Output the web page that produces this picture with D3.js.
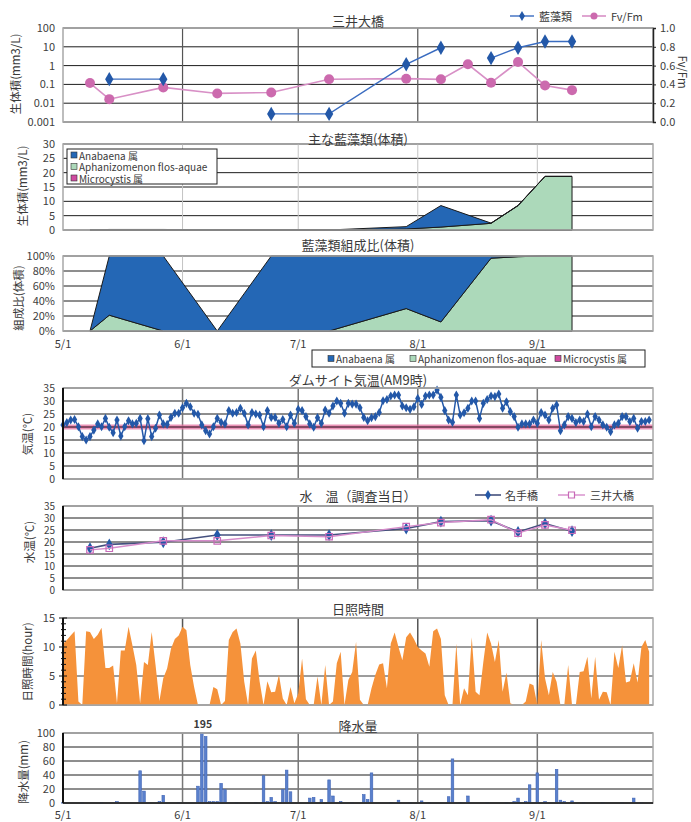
<!DOCTYPE html>
<html>
<head>
<meta charset="utf-8">
<script src="https://cdn.jsdelivr.net/npm/d3@7"></script>
<style>
  body { margin: 0; background: #fff; }
  text { font-family: "Noto Sans CJK JP", "Noto Sans", sans-serif; fill: #3a3a3a; }
</style>
</head>
<body>
<svg id="chart" width="691" height="822"></svg>
<script>
// ---- data ----
const monthTicks = ["5/1", "6/1", "7/1", "8/1", "9/1"];

// 三井大橋 : 藍藻類 total (log) and Fv/Fm
const fvDates = ["5/8", "5/13", "5/27", "6/10", "6/24", "7/9", "7/29", "8/7", "8/14", "8/20", "8/27", "9/3", "9/10"];
const bioTotal = [null, 0.19, 0.19, null, 0.0027, 0.0027, 1.17, 8.9, null, 2.5, 8.9, 19, 19];
const fvfm = [0.414, 0.243, 0.368, 0.304, 0.314, 0.454, 0.461, 0.454, 0.614, 0.418, 0.639, 0.389, 0.339];

// main blue-green algae volume (mm3/L)
const surveyDates = ["5/8", "5/13", "5/27", "6/10", "6/24", "7/9", "7/29", "8/7", "8/20", "8/27", "9/3", "9/10"];
const anabaena = [0, 0.15, 0.19, 0, 0.003, 0.003, 0.82, 7.5, 0.07, 0.08, 0, 0];
const aphanizomenon = [0, 0.04, 0, 0, 0, 0, 0.35, 1.03, 2.33, 8.5, 18.7, 18.7];
const microcystis = [0, 0, 0, 0, 0, 0, 0, 0, 0, 0, 0, 0];
const genusNames = ["Anabaena 属", "Aphanizomenon flos-aquae", "Microcystis 属"];

// water temperature on survey days
const waterNate = [17.4, 19.0, 19.9, 22.9, 22.9, 22.9, 25.6, 28.5, 28.9, 24.2, 27.7, 24.5];
const waterMitsui = [16.7, 17.4, 20.5, 20.5, 22.7, 22.2, 26.4, 28.1, 29.3, 23.7, 27.1, 24.9];

// daily from 5/1 to 9/30
const airTemp = [
  20.8, 21.7, 22.7, 22.9, 20.1, 16.3, 15.0, 16.3, 18.8, 21.2,
  20.1, 23.3, 19.9, 17.8, 22.7, 16.5, 20.1, 22.4, 21.2, 21.4,
  23.3, 14.7, 23.2, 16.3, 19.5, 24.6, 21.2, 21.0, 23.7, 25.3,
  25.3, 27.4, 29.1, 27.8, 25.3, 24.9, 20.8, 18.6, 17.3, 20.1,
  23.3, 21.8, 21.2, 26.3, 25.3, 25.6, 27.2, 25.3, 20.8, 25.6,
  25.0, 24.6, 20.1, 26.3, 23.7, 23.7, 21.4, 22.9, 20.1, 24.6,
  21.4, 26.8, 26.3, 24.0, 21.2, 19.9, 23.6, 21.4, 26.5, 25.3,
  28.1, 30.0, 29.1, 25.3, 29.1,
  28.8, 28.8, 27.4, 23.7, 22.4, 23.6, 24.0, 25.6, 30.1, 30.6,
  31.9, 32.3, 32.3, 28.1, 27.4, 26.8, 27.8, 31.0, 28.7, 31.9,
  32.3, 32.3, 34.2, 31.4, 26.3, 22.7, 21.8, 32.3, 24.6, 25.5,
  27.2, 30.0, 30.0, 23.3, 29.1, 30.6, 31.9, 31.7, 32.7, 27.2,
  29.7, 25.9, 24.0, 19.9, 21.2, 21.2, 21.2, 22.7, 21.4, 25.6,
  24.6, 22.7, 27.2, 28.5, 18.6, 20.8, 24.0, 23.3, 21.7, 22.7,
  22.1, 25.0, 20.1, 24.0, 22.7, 20.8, 19.9, 18.2, 20.8, 21.4,
  24.0, 24.0, 22.1, 23.3, 19.5, 22.1, 22.1, 22.7
];
const airRefTemp = 20;

const sunshine = [
  10.5, 11.2, 12.0, 12.7, 0.6, 0, 12.7, 12.6, 11.4, 12.1, 13.3,
  6.4, 6.4, 6.8, 0.3, 9.4, 9.4, 13.5, 10.3, 6.9, 0.3,
  7.4, 6.9, 12.6, 6.9, 0.7, 4.6, 6.3, 9.7, 11.4, 12.0,
  13.5, 12.9, 6.9, 3.1, 0, 0, 0, 0, 3.1, 2.7,
  0, 0.7, 11.2, 12.6, 13.2, 10.6, 4.0, 0, 8.0, 9.4,
  4.0, 0, 4.1, 2.2, 2.3, 5.2, 1.1, 0, 3.1, 0.3,
  2.0, 8.0, 1.0, 0, 0, 4.9, 0, 6.9, 0, 0.6,
  7.2, 9.2, 0, 4.3,
  5.7, 10.9, 0.9, 0, 0, 2.9, 5.2, 7.0, 7.2, 2.9,
  10.6, 12.5, 10.0, 7.7, 11.7, 12.5, 11.4, 10.0, 9.4, 8.9,
  6.6, 12.7, 13.2, 11.4, 1.7, 0, 0, 10.6, 0, 2.9,
  1.7, 11.7, 2.3, 1.7, 7.4, 12.5, 10.6, 7.4, 11.2, 2.3,
  5.6, 0.3, 0, 0, 0, 0.6, 3.7, 3.4, 0, 11.2,
  4.6, 1.7, 5.7, 4.0, 0, 0, 6.9, 0, 0, 5.7,
  5.8, 8.3, 1.1, 8.3, 0.9, 2.3, 2.2, 0, 9.2, 6.4,
  10.3, 3.9, 4.1, 7.2, 3.9, 10.0, 11.2, 9.2
];

const rainDates = ["5/1", "5/6", "5/11", "5/15", "5/21", "5/22", "5/26", "5/27", "5/31", "6/5",
  "6/6", "6/7", "6/8", "6/9", "6/10", "6/11", "6/12", "6/15", "6/20", "6/22",
  "6/23", "6/24", "6/25", "6/27", "6/28", "6/29", "7/4", "7/5", "7/7", "7/9",
  "7/10", "7/12", "7/15", "7/18", "7/19", "7/20", "7/25", "7/27", "7/30", "8/2",
  "8/4", "8/9", "8/10", "8/12", "8/14", "8/19", "8/24", "8/26", "8/27", "8/29",
  "8/30", "9/1", "9/3", "9/6", "9/7", "9/8", "9/10", "9/13", "9/18", "9/23",
  "9/26", "9/28"];
const rainMm = [0.5, 0.5, 0.5, 2, 46, 17, 2, 11, 1, 24,
  195, 95, 2, 2, 2, 28, 19, 0.5, 1, 39,
  2, 8, 2, 19, 47, 16, 7, 8, 5, 33,
  10, 2, 0.5, 12, 5, 43, 0.5, 4, 0.5, 3,
  0.5, 9, 63, 1, 10, 0.5, 0.5, 2, 7, 2,
  26, 43, 2, 48, 4, 2, 3, 0.5, 0.5, 0.5,
  7, 0.5];

// ---- setup ----
const svg = d3.select("#chart");
const year = 2010;
const toDate = s => { const [m, d] = s.split("/").map(Number); return new Date(year, m - 1, d); };
const dayDate = i => d3.timeDay.offset(new Date(year, 4, 1), i);

const X0 = 63, X1 = 653;
const x = d3.scaleTime().domain([new Date(year, 4, 1), new Date(year, 9, 1)]).range([X0, X1]);
const monthDates = monthTicks.map(toDate);

const col = {
  blue: "#2358A8", blueLine: "#3A6CC0",
  pink: "#CC6AAE", pinkLine: "#D890C6",
  ana: "#2467B5", aph: "#ACD9BA", mic: "#D04AA0",
  sun: "#F5923A", rain: "#3F64B6"
};

const gridLayer = svg.append("g");
const markLayer = svg.append("g");
const axisLayer = svg.append("g");

// grid + frame + left tick labels for one panel
const frame = (y, ticks, o = {}) => {
  const [yb, yt] = y.range();
  gridLayer.append("g").selectAll("line").data(ticks).join("line")
    .attr("x1", X0).attr("x2", X1)
    .attr("y1", d => y(d)).attr("y2", d => y(d))
    .attr("stroke", o.hColor || "#1c1c1c").attr("stroke-width", 1);
  gridLayer.append("g").selectAll("line").data(monthDates.slice(1)).join("line")
    .attr("x1", d => x(d)).attr("x2", d => x(d))
    .attr("y1", yt).attr("y2", yb)
    .attr("stroke", o.vColor || "#808080").attr("stroke-width", o.vWidth || 1.2);

  axisLayer.append("rect")
    .attr("x", X0).attr("y", yt).attr("width", X1 - X0).attr("height", yb - yt)
    .attr("fill", "none").attr("stroke", "#a8a8a8").attr("stroke-width", 1.5);
  if (o.leftAxis) {
    axisLayer.append("line").attr("x1", X0).attr("x2", X0).attr("y1", yt).attr("y2", yb)
      .attr("stroke", "#111").attr("stroke-width", 2);
  }
  const ax = axisLayer.append("g").attr("transform", `translate(${X0},0)`)
    .call(d3.axisLeft(y).tickValues(ticks).tickSize(0).tickPadding(8).tickFormat(o.fmt || d3.format("d")));
  ax.select(".domain").remove();
  ax.selectAll("text").style("font-size", o.fs || "11px").style("fill", "#404040");
};

const title = (y, str) => axisLayer.append("text")
  .attr("x", 358).attr("y", y).attr("text-anchor", "middle")
  .attr("dominant-baseline", "central").style("font-size", "13px").text(str);

const yTitle = (xp, yp, str, rot = -90) => axisLayer.append("text")
  .attr("transform", `translate(${xp},${yp}) rotate(${rot})`)
  .attr("text-anchor", "middle").attr("dominant-baseline", "central")
  .style("font-size", "11.5px").text(str);

const monthLabels = yp => axisLayer.append("g").selectAll("text").data(monthDates).join("text")
  .attr("x", d => x(d)).attr("y", yp).attr("text-anchor", "middle")
  .attr("dominant-baseline", "central").style("font-size", "11px")
  .text((d, i) => monthTicks[i]);

const diamond = d3.symbol(d3.symbolDiamond);
const square = d3.symbol(d3.symbolSquare);

// ---- 1. 三井大橋 ----
{
  const yL = d3.scaleLog().domain([0.001, 100]).range([122, 28]);
  const yR = d3.scaleLinear().domain([0, 1]).range([122, 28]);
  frame(yL, [0.001, 0.01, 0.1, 1, 10, 100], { fmt: d => String(d), vColor: "#555" });

  const ra = axisLayer.append("g").attr("transform", `translate(${X1},0)`)
    .call(d3.axisRight(yR).ticks(5).tickSize(3).tickPadding(4).tickFormat(d3.format(".1f")));
  ra.select(".domain").attr("stroke", "#222").attr("stroke-width", 1.5);
  ra.selectAll("line").attr("stroke", "#222");
  ra.selectAll("text").style("font-size", "11px").style("fill", "#404040");

  const bio = fvDates.map((d, i) => ({ date: toDate(d), v: bioTotal[i] }));
  const fv = fvDates.map((d, i) => ({ date: toDate(d), v: fvfm[i] }));

  markLayer.append("path").datum(fv)
    .attr("d", d3.line().x(d => x(d.date)).y(d => yR(d.v)))
    .attr("fill", "none").attr("stroke", col.pinkLine).attr("stroke-width", 1.6);
  markLayer.append("path").datum(bio)
    .attr("d", d3.line().defined(d => d.v != null).x(d => x(d.date)).y(d => yL(d.v)))
    .attr("fill", "none").attr("stroke", col.blueLine).attr("stroke-width", 1.4);
  markLayer.append("g").selectAll("circle").data(fv).join("circle")
    .attr("cx", d => x(d.date)).attr("cy", d => yR(d.v)).attr("r", 5)
    .attr("fill", col.pink);
  markLayer.append("g").selectAll("path").data(bio.filter(d => d.v != null)).join("path")
    .attr("transform", d => `translate(${x(d.date)},${yL(d.v)})`)
    .attr("d", diamond.size(60)).attr("fill", col.blue);

  title(20, "三井大橋");
  yTitle(15, 74, "生体積(mm3/L)");
  yTitle(683, 72, "Fv/Fm", 90);

  // legend
  const lg = axisLayer.append("g").attr("transform", "translate(0,16)");
  lg.append("line").attr("x1", 510).attr("x2", 534).attr("stroke", col.blueLine).attr("stroke-width", 1.4);
  lg.append("path").attr("transform", "translate(522,0)").attr("d", diamond.size(30)).attr("fill", col.blue);
  lg.append("text").attr("x", 539).attr("dominant-baseline", "central").style("font-size", "11px").text("藍藻類");
  lg.append("line").attr("x1", 582).attr("x2", 606).attr("stroke", col.pinkLine).attr("stroke-width", 1.6);
  lg.append("circle").attr("cx", 594).attr("r", 3.5).attr("fill", col.pink);
  lg.append("text").attr("x", 611).attr("dominant-baseline", "central").style("font-size", "11px").text("Fv/Fm");
}

// rows for stacked panels
const rows = surveyDates.map((d, i) => ({ date: toDate(d), mic: microcystis[i], aph: aphanizomenon[i], ana: anabaena[i] }));
const keys = ["mic", "aph", "ana"];
const keyColor = { ana: col.ana, aph: col.aph, mic: col.mic };

// ---- 2. 主な藍藻類(体積) ----
{
  const y = d3.scaleLinear().domain([0, 30]).range([230, 144]);
  frame(y, d3.range(0, 31, 5), { vColor: "#c4c4c4", vWidth: 1 });
  const series = d3.stack().keys(keys)(rows);
  const area = d3.area().x(d => x(d.data.date)).y0(d => y(d[0])).y1(d => y(d[1]));
  markLayer.append("g").selectAll("path").data(series).join("path")
    .attr("d", area).attr("fill", d => keyColor[d.key])
    .attr("stroke", "#1a1a1a").attr("stroke-width", 1).attr("stroke-linejoin", "round");

  title(138, "主な藍藻類(体積)");
  yTitle(22, 186, "生体積(mm3/L)");

  const lg = axisLayer.append("g");
  lg.append("rect").attr("x", 67).attr("y", 149).attr("width", 150).attr("height", 35)
    .attr("fill", "#fff").attr("stroke", "#222").attr("stroke-width", 1);
  ["ana", "aph", "mic"].forEach((k, i) => {
    const yy = 155 + i * 11.5;
    lg.append("rect").attr("x", 71).attr("y", yy - 3).attr("width", 6).attr("height", 6)
      .attr("fill", keyColor[k]).attr("stroke", "#333").attr("stroke-width", 0.6);
    lg.append("text").attr("x", 79).attr("y", yy).attr("dominant-baseline", "central")
      .style("font-size", "10px").text(genusNames[i]);
  });
}

// ---- 3. 藍藻類組成比(体積) ----
{
  const y = d3.scaleLinear().domain([0, 100]).range([331, 256]);
  frame(y, d3.range(0, 101, 20), { fmt: d => d + "%", vColor: "#c4c4c4", vWidth: 1 });
  const pct = rows.map(r => {
    const t = r.mic + r.aph + r.ana;
    return { date: r.date, mic: t ? r.mic / t * 100 : 0, aph: t ? r.aph / t * 100 : 0, ana: t ? r.ana / t * 100 : 0 };
  });
  const series = d3.stack().keys(keys)(pct);
  const area = d3.area().x(d => x(d.data.date)).y0(d => y(d[0])).y1(d => y(d[1]));
  markLayer.append("g").selectAll("path").data(series).join("path")
    .attr("d", area).attr("fill", d => keyColor[d.key])
    .attr("stroke", "#1a1a1a").attr("stroke-width", 1).attr("stroke-linejoin", "round");

  title(244, "藍藻類組成比(体積)");
  yTitle(18, 298, "組成比(体積)");
  monthLabels(343);

  const lg = axisLayer.append("g");
  lg.append("rect").attr("x", 312).attr("y", 350).attr("width", 333).attr("height", 17)
    .attr("fill", "#fff").attr("stroke", "#222").attr("stroke-width", 1);
  const lx = [328, 410, 555];
  ["ana", "aph", "mic"].forEach((k, i) => {
    lg.append("rect").attr("x", lx[i]).attr("y", 355.5).attr("width", 6).attr("height", 6)
      .attr("fill", keyColor[k]).attr("stroke", "#333").attr("stroke-width", 0.6);
    lg.append("text").attr("x", lx[i] + 8).attr("y", 358.5).attr("dominant-baseline", "central")
      .style("font-size", "10px").text(genusNames[i]);
  });
}

// ---- 4. ダムサイト気温(AM9時) ----
{
  const y = d3.scaleLinear().domain([0, 35]).range([479, 388]);
  frame(y, d3.range(0, 36, 5), { leftAxis: true, vColor: "#777", vWidth: 1.5, fs: "10.5px" });
  markLayer.append("line").attr("x1", X0).attr("x2", X1)
    .attr("y1", y(airRefTemp)).attr("y2", y(airRefTemp))
    .attr("stroke", "#E4709F").attr("stroke-width", 5).attr("opacity", 0.75);
  markLayer.append("line").attr("x1", X0).attr("x2", X1)
    .attr("y1", y(airRefTemp)).attr("y2", y(airRefTemp))
    .attr("stroke", "#3a1a2a").attr("stroke-width", 1);

  const pts = airTemp.map((v, i) => ({ date: dayDate(i), v }));
  markLayer.append("path").datum(pts)
    .attr("d", d3.line().x(d => x(d.date)).y(d => y(d.v)))
    .attr("fill", "none").attr("stroke", col.blue).attr("stroke-width", 1.5);
  markLayer.append("g").selectAll("path").data(pts).join("path")
    .attr("transform", d => `translate(${x(d.date)},${y(d.v)})`)
    .attr("d", diamond.size(24)).attr("fill", col.blue);

  title(379, "ダムサイト気温(AM9時)");
  yTitle(27, 434, "気温(℃)");
}

// ---- 5. 水温(調査当日) ----
{
  const y = d3.scaleLinear().domain([0, 35]).range([590, 506]);
  frame(y, d3.range(0, 36, 5), { leftAxis: true, vColor: "#777", vWidth: 1.5, fs: "10px" });
  const nate = surveyDates.map((d, i) => ({ date: toDate(d), v: waterNate[i] }));
  const mitsui = surveyDates.map((d, i) => ({ date: toDate(d), v: waterMitsui[i] }));
  const line = d3.line().x(d => x(d.date)).y(d => y(d.v));

  markLayer.append("path").datum(nate).attr("d", line)
    .attr("fill", "none").attr("stroke", "#44507E").attr("stroke-width", 1.6);
  markLayer.append("g").selectAll("path").data(nate).join("path")
    .attr("transform", d => `translate(${x(d.date)},${y(d.v)})`)
    .attr("d", diamond.size(40)).attr("fill", col.blue);
  markLayer.append("path").datum(mitsui).attr("d", line)
    .attr("fill", "none").attr("stroke", "#D68CCB").attr("stroke-width", 1.4);
  markLayer.append("g").selectAll("path").data(mitsui).join("path")
    .attr("transform", d => `translate(${x(d.date)},${y(d.v)})`)
    .attr("d", square.size(42)).attr("fill", "none").attr("stroke", "#C86AB8").attr("stroke-width", 1.2);

  title(495, "水　温（調査当日）");
  yTitle(29, 542, "水温(℃)");

  const lg = axisLayer.append("g").attr("transform", "translate(0,495)");
  lg.append("line").attr("x1", 475).attr("x2", 501).attr("stroke", "#44507E").attr("stroke-width", 1.6);
  lg.append("path").attr("transform", "translate(488,0)").attr("d", diamond.size(30)).attr("fill", col.blue);
  lg.append("text").attr("x", 505).attr("dominant-baseline", "central").style("font-size", "11px").text("名手橋");
  lg.append("line").attr("x1", 558).attr("x2", 585).attr("stroke", "#D68CCB").attr("stroke-width", 1.4);
  lg.append("path").attr("transform", "translate(571.5,0)").attr("d", square.size(36))
    .attr("fill", "#fff").attr("stroke", "#C86AB8").attr("stroke-width", 1.2);
  lg.append("text").attr("x", 590).attr("dominant-baseline", "central").style("font-size", "11px").text("三井大橋");
}

// ---- 6. 日照時間 ----
{
  const y = d3.scaleLinear().domain([0, 15]).range([705, 618]);
  frame(y, [0, 5, 10, 15], { leftAxis: true, hColor: "#3a3a3a", vColor: "#555", vWidth: 1.5 });
  const pts = sunshine.map((v, i) => ({ date: dayDate(i), v }));
  markLayer.append("path").datum(pts)
    .attr("d", d3.area().x(d => x(d.date)).y0(y(0)).y1(d => y(d.v)))
    .attr("fill", col.sun);
  // minor ticks each hour
  axisLayer.append("g").selectAll("line").data(d3.range(0, 16)).join("line")
    .attr("x1", d => X0 - (d % 5 ? 2 : 4)).attr("x2", d => X0 + (d % 5 ? 3 : 4))
    .attr("y1", d => y(d)).attr("y2", d => y(d))
    .attr("stroke", "#111").attr("stroke-width", 1);

  title(608, "日照時間");
  yTitle(27, 662, "日照時間(hour)");
}

// ---- 7. 降水量 ----
{
  const y = d3.scaleLinear().domain([0, 100]).range([803, 733]).clamp(true);
  frame(y, d3.range(0, 101, 20), { leftAxis: true, vColor: "#777", vWidth: 1.5 });
  const bars = rainDates.map((d, i) => ({ date: toDate(d), v: rainMm[i] }));
  markLayer.append("g").selectAll("rect").data(bars).join("rect")
    .attr("x", d => x(d.date) - 1.3).attr("width", 2.6)
    .attr("y", d => y(d.v)).attr("height", d => Math.max(0.8, y(0) - y(d.v)))
    .attr("fill", "#5A80CC").attr("stroke", col.rain).attr("stroke-width", 0.6);
  axisLayer.append("line").attr("x1", X0).attr("x2", X1).attr("y1", y(0)).attr("y2", y(0))
    .attr("stroke", "#111").attr("stroke-width", 1.5);

  // value above the clipped bar
  const over = bars.filter(d => d.v > 100);
  axisLayer.append("g").selectAll("text").data(over).join("text")
    .attr("x", d => x(d.date) + 1).attr("y", 723).attr("text-anchor", "middle")
    .attr("dominant-baseline", "central").style("font-size", "10.5px").style("font-weight", "bold")
    .text(d => d.v);

  title(725, "降水量");
  yTitle(23, 772, "降水量(mm)");
  monthLabels(814);
}
</script>
</body>
</html>
